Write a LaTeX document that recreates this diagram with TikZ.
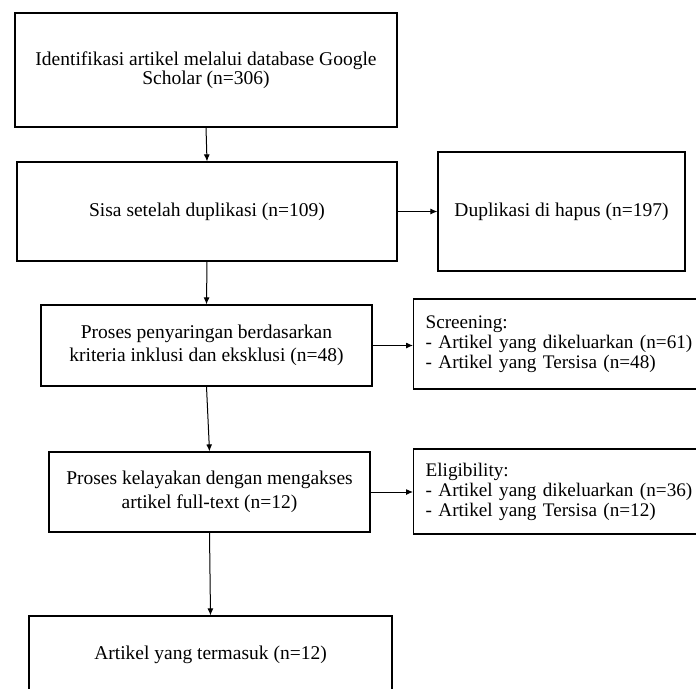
\documentclass[tikz,border=0pt]{standalone}
\usepackage{fontspec}
\setmainfont{Liberation Serif}
\usetikzlibrary{arrows.meta}

\begin{document}
\begin{tikzpicture}[
x=1pt, y=-1pt,
box/.style={draw, line width=1.2pt, inner sep=0pt, align=center, font=\fontsize{19.5}{23.5}\selectfont},
listbox/.style={draw, line width=1.2pt, anchor=west, inner xsep=12pt, inner ysep=0pt, text width=300pt, align=left, font=\fontsize{19.2}{20}\selectfont},
arr/.style={-{Latex[length=7pt,width=6pt]}, line width=1pt}
]

\clip (0,0) rectangle (696,688);

%%%% MAIN COLUMN

\path (206,70) node[box, minimum width=382pt, minimum height=114pt, font=\fontsize{19.5}{19}\selectfont](ident){Identifikasi artikel melalui database Google\\Scholar (n=306)};
\path (207,211.5) node[box, minimum width=380pt, minimum height=99pt](sisa){Sisa setelah duplikasi (n=109)};
\path (206.5,345.5) node[box, minimum width=331pt, minimum height=81pt](saring){Proses penyaringan berdasarkan\\kriteria inklusi dan eksklusi (n=48)};
\path (209.5,492) node[box, minimum width=321pt, minimum height=80pt](layak){Proses kelayakan dengan mengakses\\artikel full-text (n=12)};
\path (210.5,655) node[box, minimum width=363pt, minimum height=78pt](incl){Artikel yang termasuk (n=12)};

%%%% SIDE BOXES

\path (561.5,211.5) node[box, minimum width=247pt, minimum height=119pt](hapus){Duplikasi di hapus (n=197)};
\path (413,344) node[listbox, minimum height=90pt](screen){Screening:\\- Artikel yang dikeluarkan (n=61)\\- Artikel yang Tersisa (n=48)};
\path (413,491.5) node[listbox, minimum height=85pt](elig){Eligibility:\\- Artikel yang dikeluarkan (n=36)\\- Artikel yang Tersisa (n=12)};

%% arrows down
\draw[arr] (ident.south)--(sisa.north);
\draw[arr] (sisa.south)--(saring.north);
\draw[arr] (saring.south)--(layak.north);
\draw[arr] (layak.south)--(incl.north);

%% arrows right
\draw[arr] (sisa.east)--(hapus.west);
\draw[arr] (saring.east)--(saring.east -| screen.west);
\draw[arr] (layak.east)--(layak.east -| elig.west);

\end{tikzpicture}
\end{document}
